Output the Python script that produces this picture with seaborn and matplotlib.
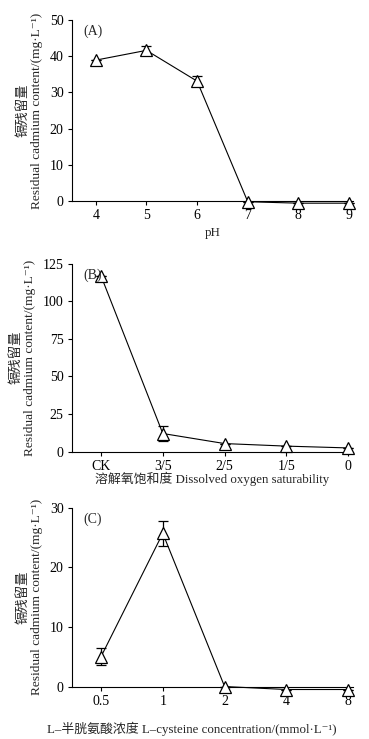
"""Residual cadmium content under pH, dissolved oxygen and L-cysteine."""
import numpy as np
import matplotlib

matplotlib.use("Agg")
import matplotlib.pyplot as plt
import seaborn as sns

sns.set_style("ticks")
plt.rcParams["font.family"] = ["Liberation Serif", "DejaVu Serif", "Noto Sans CJK SC"]
plt.rcParams["axes.unicode_minus"] = False

# (A) pH
ph_labels = ["4", "5", "6", "7", "8", "9"]
ph_values = [38.9, 41.6, 33.1, -0.2, -0.6, -0.6]
ph_errors = [0.0, 1.2, 1.3, 0.0, 0.0, 0.0]

# (B) dissolved oxygen saturability
do_labels = ["CK", "3/5", "2/5", "1/5", "0"]
do_values = [117.0, 12.0, 5.3, 3.6, 2.4]
do_errors = [0.0, 4.8, 0.0, 0.0, 0.0]

# (C) L-cysteine concentration
cys_labels = ["0.5", "1", "2", "4", "8"]
cys_values = [5.0, 25.7, 0.0, -0.5, -0.5]
cys_errors = [1.4, 2.1, 0.0, 0.0, 0.0]

YLABEL = "镉残留量\nResidual cadmium content/(mg·L⁻¹)"

# tag, labels, values, errors, xlabel, yticks, axes rect, xlabel x, xlabel pad
panels = [
    ("(A)", ph_labels, ph_values, ph_errors, "pH", [0, 10, 20, 30, 40, 50],
     [0.195, 0.728, 0.762, 0.245], 0.5, 3),
    ("(B)", do_labels, do_values, do_errors,
     "溶解氧饱和度 Dissolved oxygen saturability", [0, 25, 50, 75, 100, 125],
     [0.195, 0.389, 0.762, 0.254], 0.5, -1),
    ("(C)", cys_labels, cys_values, cys_errors,
     "L–半胱氨酸浓度 L–cysteine concentration/(mmol·L⁻¹)", [0, 10, 20, 30],
     [0.195, 0.071, 0.762, 0.242], 0.425, 10),
]

fig = plt.figure(figsize=(3.69, 7.39), dpi=100)

for tag, labels, values, errors, xlabel, yticks, rect, lx, lpad in panels:
    ax = fig.add_axes(rect)
    pos = np.arange(len(labels))
    sns.lineplot(x=pos, y=values, ax=ax, color="black", linewidth=0.8,
                 marker="^", markersize=9, markerfacecolor="white",
                 markeredgecolor="black", markeredgewidth=0.9,
                 clip_on=False, zorder=3)
    ax.errorbar(pos, values, yerr=errors, fmt="none", ecolor="black",
                elinewidth=0.9, capsize=3.5, capthick=0.9, clip_on=False,
                zorder=2)
    ax.set_xlim(-0.47, len(labels) - 1 + 0.08)
    ax.set_ylim(yticks[0], yticks[-1])
    ax.set_yticks(yticks)
    ax.set_xticks(pos)
    ax.set_xticklabels(labels)
    ax.tick_params(labelsize=10, length=3, width=0.8, color="black",
                   labelcolor="black", pad=3)
    sns.despine(ax=ax)
    for side in ["left", "bottom"]:
        ax.spines[side].set_linewidth(0.8)
        ax.spines[side].set_color("black")
    ax.set_xlabel(xlabel, fontsize=9.3, labelpad=lpad)
    ax.xaxis.label.set_x(lx)
    ax.set_ylabel(YLABEL, fontsize=9.6, labelpad=5, linespacing=1.15)
    ax.text(0.04, 0.975, tag, transform=ax.transAxes, fontsize=10,
            ha="left", va="top")

fig.savefig("out.png", dpi=100)
